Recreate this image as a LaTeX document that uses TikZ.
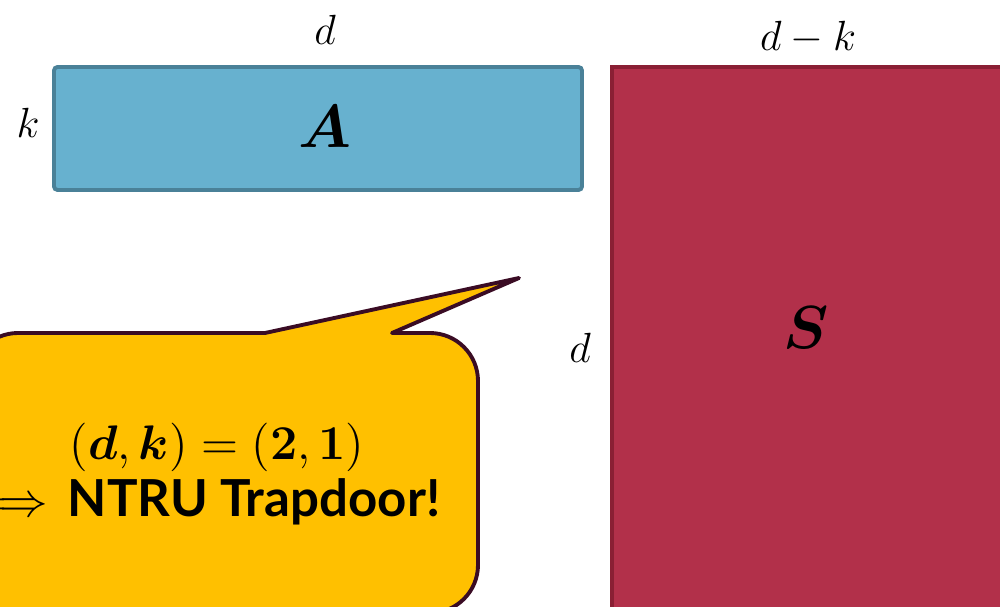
\documentclass[tikz,border=0pt]{standalone}
\usepackage{amsmath,bm}
\usepackage{fontspec}
\newfontfamily\calloutfont{Lato}
\definecolor{Ablue}{HTML}{67B1CF}
\definecolor{Aborder}{HTML}{4A8198}
\definecolor{Sred}{HTML}{B2304A}
\definecolor{Sborder}{HTML}{8A1F34}
\definecolor{Cyellow}{HTML}{FFC000}
\definecolor{Cborder}{HTML}{3A0C24}
\tikzset{
  matbox/.style={line width=1.1pt, inner sep=0pt},
  dimlabel/.style={font=\fontsize{13}{15}\selectfont, inner sep=0pt},
  matlabel/.style={font=\fontsize{18}{20}\selectfont, inner sep=0pt},
  callout/.style={fill=Cyellow, draw=Cborder, line width=1.1pt, line join=round},
}
\begin{document}
\begin{tikzpicture}[x=0.01cm, y=-0.01cm]
\useasboundingbox (0,0) rectangle (1000,607);
\begin{scope}
\clip (0,0) rectangle (1000,607);
% matrix A
\draw[matbox, fill=Ablue, draw=Aborder, rounded corners=1pt] (54,67) rectangle (582,190);
\node[matlabel] (A) at (325,127) {$\bm{A}$};
\node[dimlabel] (dA) at (325,30) {$d$};
\node[dimlabel] (kA) at (28,123) {$k$};
% matrix S
\draw[matbox, fill=Sred, draw=Sborder] (612,67) rectangle (1030,640);
\node[matlabel] (S) at (806,328) {$\bm{S}$};
\node[dimlabel] (dkS) at (808,38) {$d-k$};
\node[dimlabel] (dS) at (580,348) {$d$};
% callout
\draw[callout] (-30,383) [rounded corners=0.48cm] -- (-30,333) [sharp corners] -- (265,333) -- (519,278) -- (392,333)
  [rounded corners=0.48cm] -- (478,333) -- (478,613) -- (-30,613) -- (-30,383) [sharp corners] -- cycle;
\node[font=\fontsize{12}{14}\selectfont, anchor=base, inner sep=0pt] (eq) at (217,460)
  {\scalebox{1.15}{$(\bm{d},\bm{k})=(\bm{2},\bm{1})$}};
\node[font=\fontsize{14.5}{17}\selectfont, anchor=base west, inner sep=0pt] (ntru) at (67,517)
  {\calloutfont\bfseries NTRU Trapdoor!};
\node[font=\fontsize{12}{14}\selectfont, anchor=base east, inner sep=0pt] (arr) at (49,517)
  {\scalebox{1.15}{$\Longrightarrow$}};
\end{scope}
\end{tikzpicture}
\end{document}
